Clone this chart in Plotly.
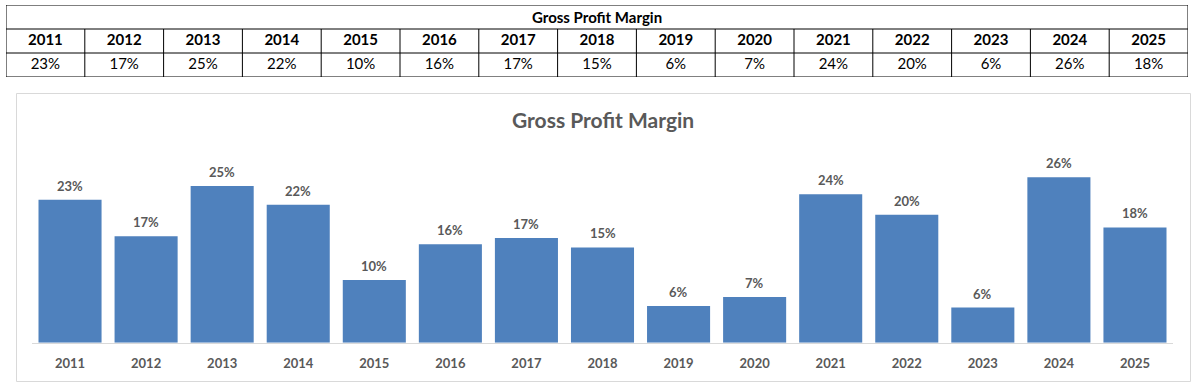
import plotly.graph_objects as go

years = ["2011", "2012", "2013", "2014", "2015", "2016", "2017", "2018",
         "2019", "2020", "2021", "2022", "2023", "2024", "2025"]
margins = [0.228, 0.170, 0.250, 0.220, 0.100, 0.157, 0.167, 0.152,
           0.0585, 0.073, 0.237, 0.204, 0.056, 0.264, 0.184]
title = "Gross Profit Margin"

W, H = 1197, 387
FONT = "Lato, 'Open Sans', sans-serif"
GRAY = "#595959"

def px(x):
    return x / W

def py(y):
    return 1 - y / H

labels = [f"{round(v * 100)}%" for v in margins]
n = len(years)
idx = list(range(n))
centers = [i + 0.5 for i in idx]

fig = go.Figure()

# ---- Table drawn on its own axes (x2/y2): 15 columns, 3 rows ----
fig.add_trace(go.Scatter(
    x=centers, y=[1.5] * n, xaxis="x2", yaxis="y2", mode="text",
    text=[f"<b>{y}</b>" for y in years], textposition="middle center",
    textfont=dict(family=FONT, size=15, color="black"), hoverinfo="skip"))
fig.add_trace(go.Scatter(
    x=centers, y=[0.5] * n, xaxis="x2", yaxis="y2", mode="text",
    text=labels, textposition="middle center",
    textfont=dict(family=FONT, size=15, color="black"), hoverinfo="skip"))

shapes = [dict(type="rect", xref="x2", yref="y2", x0=0, x1=n, y0=0, y1=3,
               line=dict(color="black", width=1))]
for yy in (1, 2):
    shapes.append(dict(type="line", xref="x2", yref="y2", x0=0, x1=n,
                       y0=yy, y1=yy, line=dict(color="black", width=1)))
for xx in range(1, n):
    shapes.append(dict(type="line", xref="x2", yref="y2", x0=xx, x1=xx,
                       y0=0, y1=2, line=dict(color="black", width=1)))
# chart outer border
shapes.append(dict(type="rect", xref="paper", yref="paper",
                   x0=px(16.5), x1=px(1190.5), y0=py(381.5), y1=py(93.5),
                   line=dict(color="#d9d9d9", width=1), layer="below"))

# ---- Bar chart ----
fig.add_trace(go.Bar(
    x=idx, y=margins,
    marker=dict(color="#4f81bd", line=dict(width=0)),
    hovertext=labels, hoverinfo="text",
))

annotations = []
for i, v, l in zip(idx, margins, labels):
    annotations.append(dict(x=i, y=v, xref="x", yref="y", text=f"<b>{l}</b>",
                            showarrow=False, yanchor="middle", yshift=14,
                            font=dict(family=FONT, size=13, color=GRAY)))

annotations.append(dict(x=n / 2, y=2.5, xref="x2", yref="y2",
                        text=f"<b>{title}</b>", showarrow=False,
                        xanchor="center", yanchor="middle",
                        font=dict(family=FONT, size=15, color="black")))
annotations.append(dict(x=px(603), y=py(119), xref="paper", yref="paper",
                        text=f"<b>{title}</b>", showarrow=False,
                        xanchor="center", yanchor="middle",
                        font=dict(family=FONT, size=21, color=GRAY)))

fig.update_layout(
    width=W, height=H,
    margin=dict(l=0, r=0, t=0, b=0),
    paper_bgcolor="white", plot_bgcolor="rgba(0,0,0,0)",
    showlegend=False,
    bargap=0.171,
    xaxis=dict(domain=[px(32), px(1173)], range=[-0.5, n - 0.5],
               tickmode="array", tickvals=idx,
               ticktext=[f"<b>{y}</b>" for y in years],
               showline=True, linecolor="#d9d9d9", linewidth=1,
               ticks="outside", ticklen=9, tickcolor="rgba(0,0,0,0)",
               tickfont=dict(family=FONT, size=13, color=GRAY),
               showgrid=False, zeroline=False, fixedrange=True,
               automargin=False),
    yaxis=dict(domain=[py(342.7), py(154.7)], range=[0, 0.30],
               visible=False, showgrid=False, zeroline=False, fixedrange=True),
    xaxis2=dict(domain=[px(6), px(1188)], range=[0, n], visible=False,
                fixedrange=True, anchor="y2"),
    yaxis2=dict(domain=[py(77), py(5)], range=[0, 3], visible=False,
                fixedrange=True, anchor="x2"),
    annotations=annotations,
    shapes=shapes,
)

fig.write_html("out.html", config={"displayModeBar": False},
               post_script="document.body.style.margin='0';document.body.style.padding='0';")
